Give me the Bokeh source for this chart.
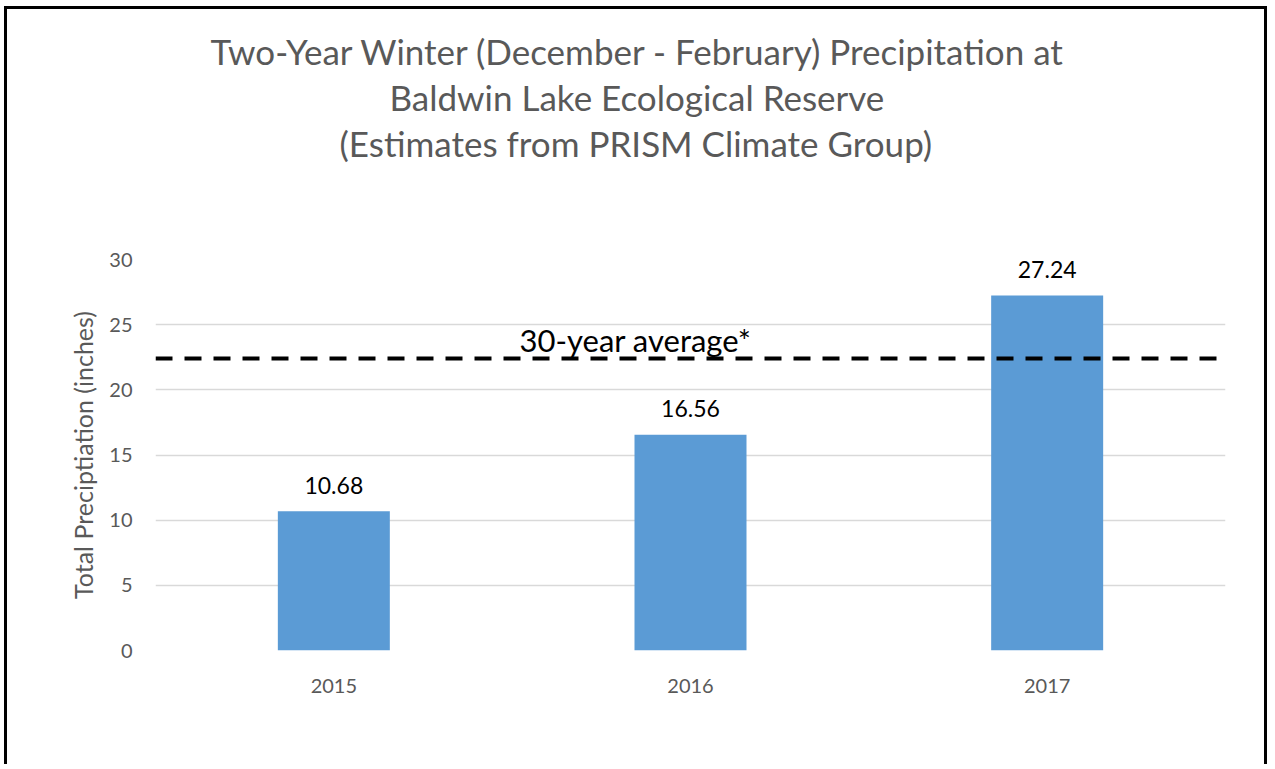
from bokeh.plotting import figure
from bokeh.models import Label, FactorRange, ColumnDataSource, Title, LinearAxis, FixedTicker
from bokeh.core.properties import value
from bokeh.embed import file_html
from bokeh.resources import INLINE

years = ["2015", "2016", "2017"]
precip = [10.68, 16.56, 27.24]
labels = ["10.68", "16.56", "27.24"]
avg_30yr = 22.4
title_lines = [
    "Two-Year Winter (December - February) Precipitation at",
    "Baldwin Lake Ecological Reserve",
    "(Estimates from PRISM Climate Group)",
]

FONT = "Lato"
GRAY = "#595959"

W, H = 1263, 758
p = figure(x_range=FactorRange(*years, range_padding=0), y_range=(0, 30),
           width=W, height=H, output_backend="svg", toolbar_location=None,
           min_border_left=148, min_border_right=45, min_border_top=250,
           min_border_bottom=117)
p.styles = {"border-left": "3px solid black", "border-top": "3px solid black",
            "border-right": "3px solid black", "margin-left": "4px", "margin-top": "6px"}
p.outline_line_color = None
p.background_fill_color = "white"

src = ColumnDataSource(dict(x=years, top=precip, lab=labels))
p.vbar(x="x", top="top", width=0.314, source=src, fill_color="#5b9bd5", line_color=None)
p.text(x="x", y="top", text="lab", source=src, text_align="center",
       text_baseline="alphabetic", y_offset=-26, text_font=value(FONT),
       text_font_size="23px", text_color="black")

# 30-year average dashed line
p.line(x=[0, 3], y=[avg_30yr, avg_30yr], line_color="black", line_width=4,
       line_dash="17 12")
p.add_layout(Label(x=364, y=311, x_units="screen", y_units="screen",
                   text="30-year average*", text_font=FONT, text_font_size="31px",
                   text_color="black", text_baseline="alphabetic"))

# blank spacer between the plot area and the title block (invisible white tick)
spacer = LinearAxis(ticker=FixedTicker(ticks=[1.5]), major_label_overrides={1.5: ""},
                    major_tick_out=95, major_tick_in=0, major_tick_line_color="white",
                    major_tick_line_width=1, minor_tick_line_color=None,
                    axis_line_color=None, major_label_standoff=0)
p.add_layout(spacer, "above")

# title lines (bottom line first: closest to the frame); left-aligned with
# offsets so that each line is centred on the page
title_offsets = [184, 234, 55]
for i, t in enumerate(reversed(title_lines)):
    p.add_layout(Title(text=t, align="left", text_font=FONT, text_font_size="35px",
                       text_color=GRAY, text_font_style="normal",
                       standoff=2, offset=title_offsets[i]), "above")

p.xgrid.grid_line_color = None
p.ygrid.grid_line_color = "#d9d9d9"
p.ygrid.grid_line_width = 1.5
p.yaxis.ticker = [0, 5, 10, 15, 20, 25, 30]

for ax in (p.xaxis, p.yaxis):
    ax.axis_line_color = None
    ax.major_tick_line_color = None
    ax.minor_tick_line_color = None
    ax.major_label_text_font = FONT
    ax.major_label_text_font_size = "20px"
    ax.major_label_text_color = GRAY

p.yaxis.major_label_standoff = 17
p.xaxis.major_label_standoff = 22
p.yaxis.axis_label = "Total Preciptiation (inches)"
p.yaxis.axis_label_text_font = FONT
p.yaxis.axis_label_text_font_size = "25px"
p.yaxis.axis_label_text_font_style = "normal"
p.yaxis.axis_label_text_color = GRAY
p.yaxis.axis_label_standoff = 8

open("out.html", "w").write(file_html(p, INLINE))
